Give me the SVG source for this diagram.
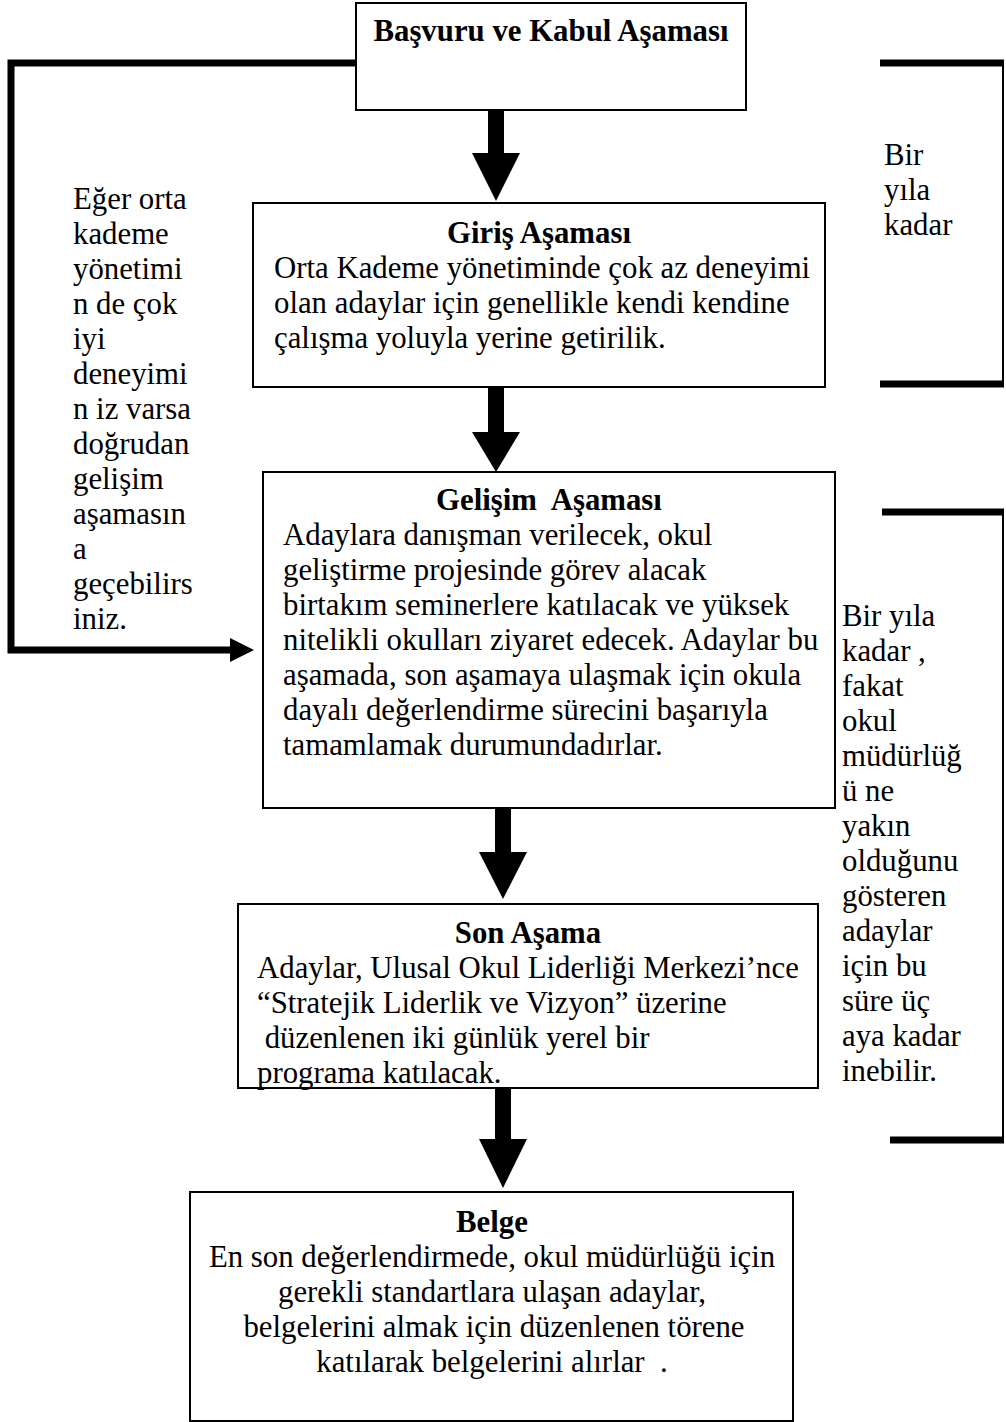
<svg xmlns="http://www.w3.org/2000/svg" width="1006" height="1422" viewBox="0 0 1006 1422">
<style>
.box{fill:#fff;stroke:#000;stroke-width:2}
.t{font-family:"Liberation Serif","Times New Roman",serif;font-size:30.8px;fill:#000}
.b{font-weight:bold}
.c{text-anchor:middle}
.thick{fill:none;stroke:#000;stroke-width:7}
.thin{fill:none;stroke:#000;stroke-width:2}
.ah{fill:#000}
</style>
<rect width="1006" height="1422" fill="#fff"/>
<g id="connectors">
<polyline class="thick" points="356,63 11,63 11,650 232,650"/>
<polygon class="ah" points="230,638 254,650 230,662"/>
<rect class="ah" x="488" y="110" width="16" height="44"/>
<polygon class="ah" points="472,153 520,153 496,201"/>
<rect class="ah" x="488" y="387" width="16" height="46"/>
<polygon class="ah" points="472,432 520,432 496,472"/>
<rect class="ah" x="495" y="808" width="16" height="45"/>
<polygon class="ah" points="479,852 527,852 503,899"/>
<rect class="ah" x="495" y="1088" width="16" height="52"/>
<polygon class="ah" points="479,1139 527,1139 503,1188"/>
</g>
<g id="bracket1">
<line class="thick" x1="880" y1="63" x2="1004" y2="63"/>
<line class="thin" x1="1003" y1="63" x2="1003" y2="384"/>
<line class="thick" x1="880" y1="384" x2="1004" y2="384"/>
</g>
<g id="bracket2">
<line class="thick" x1="882" y1="512" x2="1004" y2="512"/>
<line class="thin" x1="1003" y1="512" x2="1003" y2="1140"/>
<line class="thick" x1="890" y1="1140" x2="1004" y2="1140"/>
</g>
<g id="node-basvuru">
<rect class="box" x="356" y="3" width="390" height="107"/>
<text class="t b c" x="551" y="41">Başvuru ve Kabul Aşaması</text>
</g>
<g id="node-giris">
<rect class="box" x="253" y="203" width="572" height="184"/>
<text class="t b c" x="539" y="243">Giriş Aşaması</text>
<text class="t" x="274" y="278">Orta Kademe yönetiminde çok az deneyimi</text>
<text class="t" x="274" y="313">olan adaylar için genellikle kendi kendine</text>
<text class="t" x="274" y="348">çalışma yoluyla yerine getirilik.</text>
</g>
<g id="node-gelisim">
<rect class="box" x="263" y="472" width="572" height="336"/>
<text class="t b c" x="549" y="510" xml:space="preserve">Gelişim  Aşaması</text>
<text class="t" x="283" y="545">Adaylara danışman verilecek, okul</text>
<text class="t" x="283" y="580">geliştirme projesinde görev alacak</text>
<text class="t" x="283" y="615">birtakım seminerlere katılacak ve yüksek</text>
<text class="t" x="283" y="650">nitelikli okulları ziyaret edecek. Adaylar bu</text>
<text class="t" x="283" y="685">aşamada, son aşamaya ulaşmak için okula</text>
<text class="t" x="283" y="720">dayalı değerlendirme sürecini başarıyla</text>
<text class="t" x="283" y="755">tamamlamak durumundadırlar.</text>
</g>
<g id="node-son">
<rect class="box" x="238" y="904" width="580" height="184"/>
<text class="t b c" x="528" y="943">Son Aşama</text>
<text class="t" x="257" y="978">Adaylar, Ulusal Okul Liderliği Merkezi’nce</text>
<text class="t" x="257" y="1013">“Stratejik Liderlik ve Vizyon” üzerine</text>
<text class="t" x="257" y="1048" xml:space="preserve"> düzenlenen iki günlük yerel bir</text>
<text class="t" x="257" y="1083">programa katılacak.</text>
</g>
<g id="node-belge">
<rect class="box" x="190" y="1192" width="603" height="229"/>
<text class="t b c" x="492" y="1232">Belge</text>
<text class="t c" x="492" y="1267">En son değerlendirmede, okul müdürlüğü için</text>
<text class="t c" x="492" y="1302">gerekli standartlara ulaşan adaylar,</text>
<text class="t c" x="494" y="1337">belgelerini almak için düzenlenen törene</text>
<text class="t c" x="492" y="1372" xml:space="preserve">katılarak belgelerini alırlar  .</text>
</g>
<g id="note-left">
<text class="t" x="73" y="209">Eğer orta</text>
<text class="t" x="73" y="244">kademe</text>
<text class="t" x="73" y="279">yönetimi</text>
<text class="t" x="73" y="314">n de çok</text>
<text class="t" x="73" y="349">iyi</text>
<text class="t" x="73" y="384">deneyimi</text>
<text class="t" x="73" y="419">n iz varsa</text>
<text class="t" x="73" y="454">doğrudan</text>
<text class="t" x="73" y="489">gelişim</text>
<text class="t" x="73" y="524">aşamasın</text>
<text class="t" x="73" y="559">a</text>
<text class="t" x="73" y="594">geçebilirs</text>
<text class="t" x="73" y="629">iniz.</text>
</g>
<g id="note-right1">
<text class="t" x="884" y="165">Bir</text>
<text class="t" x="884" y="200">yıla</text>
<text class="t" x="884" y="235">kadar</text>
</g>
<g id="note-right2">
<text class="t" x="842" y="626">Bir yıla</text>
<text class="t" x="842" y="661">kadar ,</text>
<text class="t" x="842" y="696">fakat</text>
<text class="t" x="842" y="731">okul</text>
<text class="t" x="842" y="766">müdürlüğ</text>
<text class="t" x="842" y="801">ü ne</text>
<text class="t" x="842" y="836">yakın</text>
<text class="t" x="842" y="871">olduğunu</text>
<text class="t" x="842" y="906">gösteren</text>
<text class="t" x="842" y="941">adaylar</text>
<text class="t" x="842" y="976">için bu</text>
<text class="t" x="842" y="1011">süre üç</text>
<text class="t" x="842" y="1046">aya kadar</text>
<text class="t" x="842" y="1081">inebilir.</text>
</g>
</svg>
